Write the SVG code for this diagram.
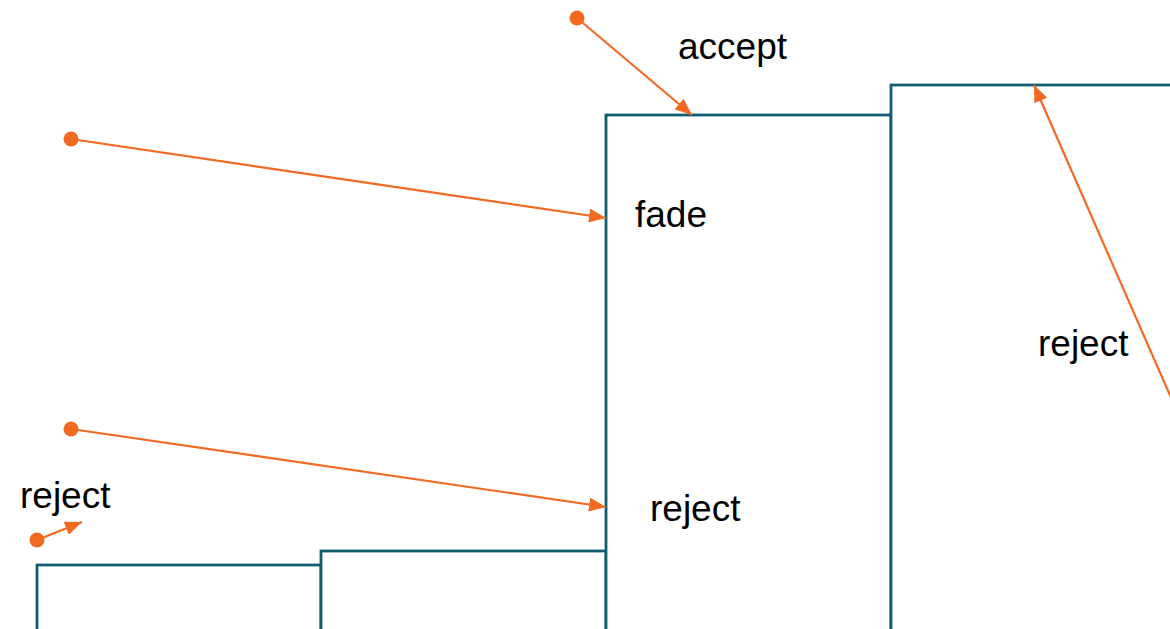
<svg xmlns="http://www.w3.org/2000/svg" width="1170" height="629" viewBox="0 0 1170 629">
<defs>
<style>
.box{fill:#fff;stroke:#0E5E70;stroke-width:2.8}
.lbl{font-family:"Liberation Sans",Arial,sans-serif;font-size:37px;fill:#000}
.arr{stroke:#F26A21;stroke-width:2.2;fill:none;marker-end:url(#ah)}
.dot{fill:#F26A21}
</style>
<marker id="ah" markerUnits="userSpaceOnUse" markerWidth="18" markerHeight="14" refX="17" refY="7" orient="auto">
<path d="M0,0 L17,7 L0,14 Z" fill="#F26A21"/>
</marker>
</defs>
<rect width="1170" height="629" fill="#fff"/>
<g id="box1"><rect class="box" x="37" y="565" width="284" height="80"/></g>
<g id="box2"><rect class="box" x="321" y="551" width="285" height="100"/></g>
<g id="box3"><rect class="box" x="606" y="115" width="285" height="540"/></g>
<g id="box4"><rect class="box" x="891" y="85" width="300" height="570"/></g>
<g id="labels">
<text class="lbl" x="678" y="59">accept</text>
<text class="lbl" x="635" y="227">fade</text>
<text class="lbl" x="650" y="521">reject</text>
<text class="lbl" x="20" y="508">reject</text>
<text class="lbl" x="1038" y="356">reject</text>
</g>
<g id="connectors">
<circle class="dot" cx="577" cy="18" r="7.5"/>
<line class="arr" x1="577" y1="18" x2="692" y2="115"/>
<circle class="dot" cx="71" cy="139" r="7.5"/>
<line class="arr" x1="71" y1="139" x2="606" y2="218"/>
<circle class="dot" cx="71" cy="429" r="7.5"/>
<line class="arr" x1="71" y1="429" x2="606" y2="507"/>
<circle class="dot" cx="37" cy="540" r="7.5"/>
<line class="arr" x1="37" y1="540" x2="82" y2="522"/>
<line class="arr" x1="1190" y1="441" x2="1034" y2="85"/>
</g>
</svg>
